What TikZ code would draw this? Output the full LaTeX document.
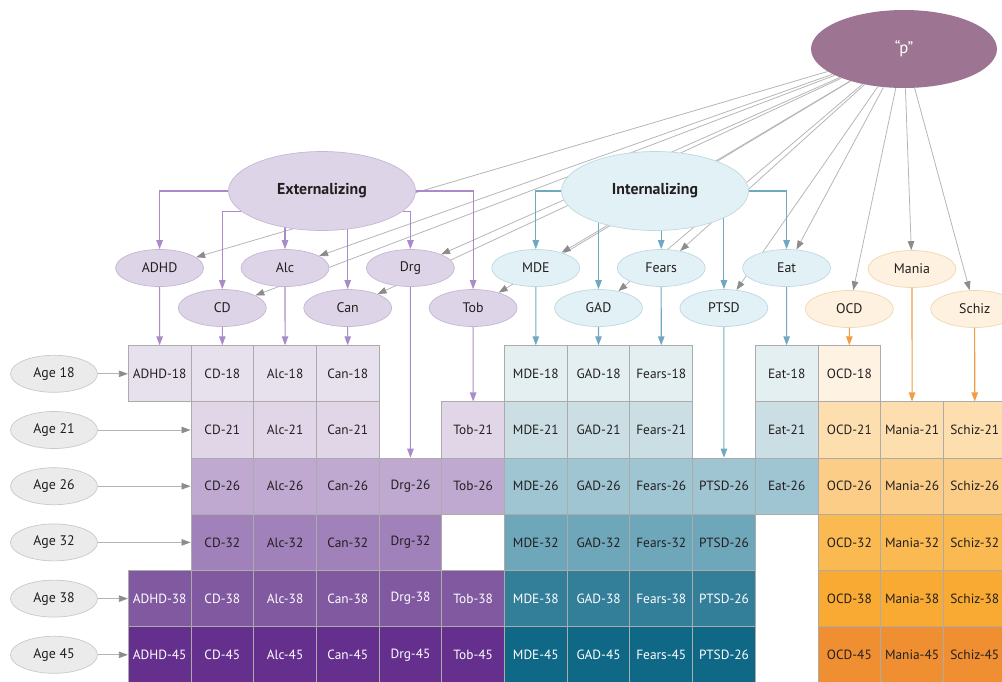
\documentclass[tikz,border=0pt]{standalone}
\usepackage{fontspec}
\setmainfont{PT Sans}
\usetikzlibrary{shapes.geometric}
\usetikzlibrary{arrows.meta}
\usetikzlibrary{backgrounds}

\definecolor{txt}{HTML}{231F20}
\definecolor{cellline}{HTML}{ABABAB}
% factor and indicator colours
\definecolor{pfill}{HTML}{9D7593}
\definecolor{extfill}{HTML}{DED4E7}
\definecolor{extdraw}{HTML}{C6B6D5}
\definecolor{intfill}{HTML}{E2F1F6}
\definecolor{intdraw}{HTML}{BFD8E1}
\definecolor{orfill}{HTML}{FEF1DF}
\definecolor{ordraw}{HTML}{F1D7B0}
\definecolor{agefill}{HTML}{EBEBEB}
\definecolor{agedraw}{HTML}{C9C9C9}
% connector colours
\definecolor{plinec}{HTML}{B5B5B5}
\definecolor{ptip}{HTML}{8C8C8C}
\definecolor{extline}{HTML}{A98BC8}
\definecolor{intline}{HTML}{70A9BF}
\definecolor{orline}{HTML}{F39B45}
% grid shades
\definecolor{pu18c}{HTML}{E7E1EE}
\definecolor{pu21c}{HTML}{E1D6E7}
\definecolor{pu26c}{HTML}{BFA9D0}
\definecolor{pu32c}{HTML}{A081BA}
\definecolor{pu38c}{HTML}{8159A1}
\definecolor{pu45c}{HTML}{652F8D}
\definecolor{bl18c}{HTML}{E4EFF1}
\definecolor{bl21c}{HTML}{CADEE4}
\definecolor{bl26c}{HTML}{9FC4D2}
\definecolor{bl32c}{HTML}{6FA7BA}
\definecolor{bl38c}{HTML}{337F9A}
\definecolor{bl45c}{HTML}{0F6886}
\definecolor{or18c}{HTML}{FEF2E2}
\definecolor{or21c}{HTML}{FDDFAF}
\definecolor{or26c}{HTML}{FBCD86}
\definecolor{or32c}{HTML}{FABA51}
\definecolor{or38c}{HTML}{F8AA32}
\definecolor{or45c}{HTML}{F08F32}

\newcommand{\cellfont}{\fontsize{7.6}{9}\selectfont}
\newcommand{\indfont}{\fontsize{7.9}{9}\selectfont}
\newcommand{\facfont}{\fontsize{9}{11}\selectfont\bfseries}

\tikzset{
  cell/.style={rectangle, draw=cellline, line width=0.5pt, minimum width=1.254cm,
    minimum height=1.124cm, inner sep=0pt, font=\cellfont, text=txt},
  pu18/.style={fill=pu18c}, pu21/.style={fill=pu21c}, pu26/.style={fill=pu26c},
  pu32/.style={fill=pu32c}, pu38/.style={fill=pu38c, text=white}, pu45/.style={fill=pu45c, text=white},
  bl18/.style={fill=bl18c}, bl21/.style={fill=bl21c}, bl26/.style={fill=bl26c},
  bl32/.style={fill=bl32c}, bl38/.style={fill=bl38c, text=white}, bl45/.style={fill=bl45c, text=white},
  or18/.style={fill=or18c}, or21/.style={fill=or21c}, or26/.style={fill=or26c},
  or32/.style={fill=or32c}, or38/.style={fill=or38c}, or45/.style={fill=or45c},
  ind/.style={ellipse, minimum width=1.76cm, minimum height=0.74cm, inner sep=0pt,
    font=\indfont, text=txt, line width=0.4pt},
  extind/.style={ind, fill=extfill, draw=extdraw},
  intind/.style={ind, fill=intfill, draw=intdraw},
  othind/.style={ind, fill=orfill, draw=ordraw},
  factor/.style={ellipse, minimum width=3.74cm, minimum height=1.58cm, inner sep=0pt,
    font=\facfont, text=txt, line width=0.4pt},
  age/.style={ellipse, fill=agefill, draw=agedraw, line width=0.4pt, minimum width=1.74cm,
    minimum height=0.74cm, inner sep=0pt, font=\indfont, text=txt},
  pline/.style={draw=plinec, line width=0.45pt, -{Triangle[length=1.8mm,width=1.3mm,color=ptip]}},
  extarrow/.style={draw=extline, line width=0.6pt, -{Triangle[length=1.8mm,width=1.3mm]}},
  intarrow/.style={draw=intline, line width=0.6pt, -{Triangle[length=1.8mm,width=1.3mm]}},
  orarrow/.style={draw=orline, line width=0.6pt, -{Triangle[length=1.8mm,width=1.3mm]}},
}

\begin{document}
\begin{tikzpicture}[x=0.02cm, y=-0.02cm]
    \useasboundingbox (0,0) rectangle (1002,681);
    \clip (0,0) rectangle (1002,681);

    % general factor and the two spectra
    \node[ellipse, fill=pfill, minimum width=3.72cm, minimum height=1.56cm, inner sep=0pt,
      font=\fontsize{9.5}{11}\selectfont, text=white] (p) at (904,49) {“p”};
    \node[factor, fill=extfill, draw=extdraw] (ext) at (322,191) {Externalizing};
    \node[factor, fill=intfill, draw=intdraw] (int) at (655,191) {Internalizing};

    % disorders
    \node[extind] (adhd) at (159.6,268) {ADHD};
    \node[extind] (alc) at (285,268) {Alc};
    \node[extind] (drg) at (410.4,268) {Drg};
    \node[extind] (cd) at (222.3,308) {CD};
    \node[extind] (can) at (347.7,308) {Can};
    \node[extind] (tob) at (473.1,308) {Tob};
    \node[intind] (mde) at (535.8,268) {MDE};
    \node[intind] (fears) at (661.2,268) {Fears};
    \node[intind] (eat) at (786.6,268) {Eat};
    \node[intind] (gad) at (598.5,308) {GAD};
    \node[intind] (ptsd) at (723.9,308) {PTSD};
    \node[othind] (mania) at (912,269) {Mania};
    \node[othind] (ocd) at (849.3,309) {OCD};
    \node[othind] (schiz) at (974.7,309) {Schiz};

    % ages
    \foreach \r/\y in {18/373.8, 21/430, 26/486.2, 32/542.4, 38/598.6, 45/654.8}
        \node[age] (age\r) at (54,\y) {Age \r};

    % assessment grid
    \foreach \c/\n/\f in {0/ADHD/pu,1/CD/pu,2/Alc/pu,3/Can/pu,6/MDE/bl,7/GAD/bl,8/Fears/bl,10/Eat/bl,11/OCD/or}
        \node[cell, \f18] (\n-18) at ({128.3+62.7*(\c+0.5)},373.8) {\n-18};
    \foreach \c/\n/\f in {1/CD/pu,2/Alc/pu,3/Can/pu,5/Tob/pu,6/MDE/bl,7/GAD/bl,8/Fears/bl,10/Eat/bl,11/OCD/or,12/Mania/or,13/Schiz/or}
        \node[cell, \f21] (\n-21) at ({128.3+62.7*(\c+0.5)},430) {\n-21};
    \foreach \c/\n/\f in {1/CD/pu,2/Alc/pu,3/Can/pu,4/Drg/pu,5/Tob/pu,6/MDE/bl,7/GAD/bl,8/Fears/bl,9/PTSD/bl,10/Eat/bl,11/OCD/or,12/Mania/or,13/Schiz/or}
        \node[cell, \f26] (\n-26) at ({128.3+62.7*(\c+0.5)},486.2) {\n-26};
    \foreach \c/\n/\f in {1/CD/pu,2/Alc/pu,3/Can/pu,4/Drg/pu,6/MDE/bl,7/GAD/bl,8/Fears/bl,11/OCD/or,12/Mania/or,13/Schiz/or}
        \node[cell, \f32] (\n-32) at ({128.3+62.7*(\c+0.5)},542.4) {\n-32};
    \node[cell, bl32] (PTSD-32) at ({128.3+62.7*9.5},542.4) {PTSD-26};
    \foreach \c/\n/\f in {0/ADHD/pu,1/CD/pu,2/Alc/pu,3/Can/pu,4/Drg/pu,5/Tob/pu,6/MDE/bl,7/GAD/bl,8/Fears/bl,11/OCD/or,12/Mania/or,13/Schiz/or}
        \node[cell, \f38] (\n-38) at ({128.3+62.7*(\c+0.5)},598.6) {\n-38};
    \node[cell, bl38] (PTSD-38) at ({128.3+62.7*9.5},598.6) {PTSD-26};
    \foreach \c/\n/\f in {0/ADHD/pu,1/CD/pu,2/Alc/pu,3/Can/pu,4/Drg/pu,5/Tob/pu,6/MDE/bl,7/GAD/bl,8/Fears/bl,11/OCD/or,12/Mania/or,13/Schiz/or}
        \node[cell, \f45] (\n-45) at ({128.3+62.7*(\c+0.5)},654.8) {\n-45};
    \node[cell, bl45] (PTSD-45) at ({128.3+62.7*9.5},654.8) {PTSD-26};

    \begin{scope}[on background layer]
        % loadings on p
        \foreach \i in {adhd,cd,alc,can,drg,tob,mde,gad,fears,ptsd,eat,ocd,mania,schiz}
            \draw[pline] (p) -- (\i);
        % externalizing
        \draw[extarrow] (ext) -| (adhd);
        \draw[extarrow] (ext.194) -| (cd);
        \draw[extarrow] (ext.center -| alc) -- (alc);
        \draw[extarrow] (ext.center -| can) -- (can);
        \draw[extarrow] (ext.346) -| (drg);
        \draw[extarrow] (ext) -| (tob);
        % internalizing
        \draw[intarrow] (int) -| (mde);
        \draw[intarrow] (int.center -| gad) -- (gad);
        \draw[intarrow] (int.center -| fears) -- (fears);
        \draw[intarrow] (int.center -| ptsd) -- (ptsd);
        \draw[intarrow] (int) -| (eat);
        % first assessment of each disorder
        \draw[extarrow] (adhd) -- (ADHD-18);
        \draw[extarrow] (cd) -- (CD-18);
        \draw[extarrow] (alc) -- (Alc-18);
        \draw[extarrow] (can) -- (Can-18);
        \draw[extarrow] (drg) -- (Drg-26);
        \draw[extarrow] (tob) -- (Tob-21);
        \draw[intarrow] (mde) -- (MDE-18);
        \draw[intarrow] (gad) -- (GAD-18);
        \draw[intarrow] (fears) -- (Fears-18);
        \draw[intarrow] (ptsd) -- (PTSD-26);
        \draw[intarrow] (eat) -- (Eat-18);
        \draw[orarrow] (ocd) -- (OCD-18);
        \draw[orarrow] (mania) -- (Mania-21);
        \draw[orarrow] (schiz) -- (Schiz-21);
        % ages to rows
        \foreach \r/\t in {18/ADHD-18, 21/CD-21, 26/CD-26, 32/CD-32, 38/ADHD-38, 45/ADHD-45}
            \draw[pline] (age\r) -- (\t);
    \end{scope}
\end{tikzpicture}
\end{document}
